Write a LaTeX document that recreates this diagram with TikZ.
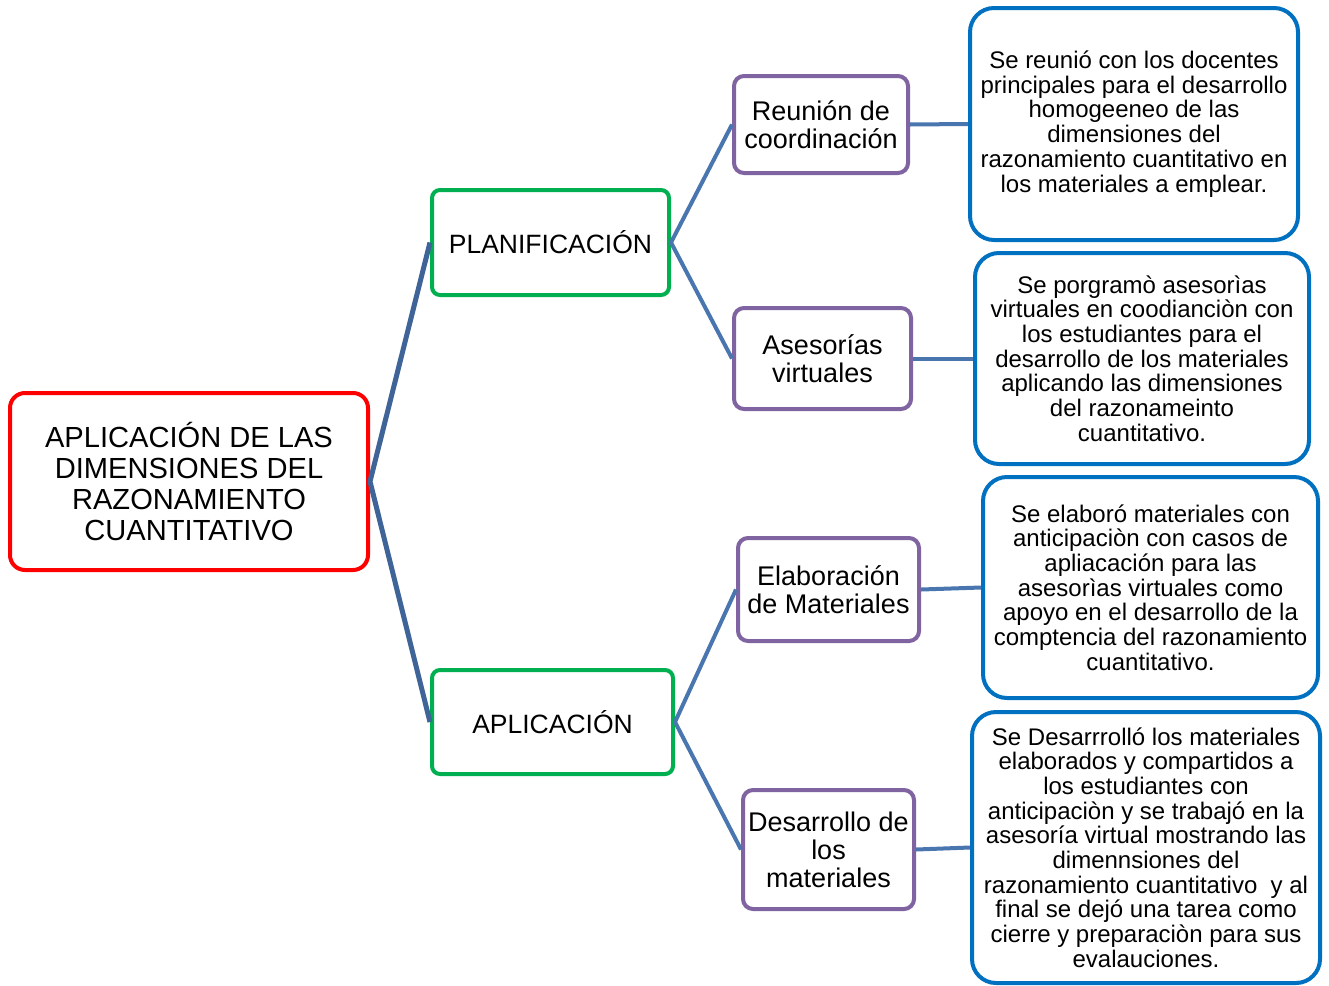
\documentclass[tikz,border=0pt]{standalone}
\usepackage{fontspec}
\setmainfont{Liberation Sans}
\definecolor{cred}{HTML}{FF0000}
\definecolor{cgreen}{HTML}{00B050}
\definecolor{cpurple}{HTML}{8064A2}
\definecolor{cblue}{HTML}{0070C0}
\definecolor{lineA}{HTML}{3F6497}
\definecolor{lineB}{HTML}{4A76B0}
\begin{document}
\begin{tikzpicture}[x=1pt,y=-1pt,
  box/.style={line width=4pt, align=center, inner sep=0pt, fill=white, text=black},
  rootbox/.style={box, draw=cred, rounded corners=15pt, font=\fontsize{29.1}{31}\selectfont},
  greenbox/.style={box, draw=cgreen, rounded corners=8pt, font=\fontsize{26.5}{30}\selectfont},
  purplebox/.style={box, draw=cpurple, rounded corners=10pt, font=\fontsize{27}{28}\selectfont},
  bluebox/.style={box, draw=cblue, rounded corners=24pt, font=\fontsize{24}{24.7}\selectfont},
  linkA/.style={draw=lineA, line width=5pt},
  linkB/.style={draw=lineB, line width=4pt}]
\useasboundingbox (0,0) rectangle (1329,985);
\fill[white] (0,0) rectangle (1329,985);

\node[rootbox, minimum width=358pt, minimum height=177pt] (root) at (189,481.5)
  {APLICACIÓN DE LAS\\DIMENSIONES DEL\\RAZONAMIENTO\\CUANTITATIVO};

\node[greenbox, minimum width=237pt, minimum height=105pt] (plan) at (550.5,242.5) {PLANIFICACIÓN};
\node[greenbox, minimum width=241pt, minimum height=104pt] (apl) at (552.5,722) {APLICACIÓN};

\node[purplebox, minimum width=174pt, minimum height=97pt] (p1) at (821,124.5) {Reunión de\\coordinación};
\node[purplebox, minimum width=177pt, minimum height=101pt] (p2) at (822.5,358.5) {Asesorías\\virtuales};
\node[purplebox, minimum width=181pt, minimum height=103pt] (p3) at (828.5,589.5) {Elaboración\\de Materiales};
\node[purplebox, minimum width=171pt, minimum height=119pt] (p4) at (828.5,849.5) {Desarrollo de\\los\\materiales};

\node[bluebox, minimum width=328pt, minimum height=232pt] (b1) at (1134,124)
  {Se reunió con los docentes\\principales para el desarrollo\\homogeeneo de las\\dimensiones del\\razonamiento cuantitativo en\\los materiales a emplear.};
\node[bluebox, minimum width=334pt, minimum height=211pt] (b2) at (1142,358.5)
  {Se porgramò asesorìas\\virtuales en coodianciòn con\\los estudiantes para el\\desarrollo de los materiales\\aplicando las dimensiones\\del razonameinto\\cuantitativo.};
\node[bluebox, minimum width=335pt, minimum height=221pt] (b3) at (1150.5,587.5)
  {Se elaboró materiales con\\anticipaciòn con casos de\\apliacación para las\\asesorìas virtuales como\\apoyo en el desarrollo de la\\comptencia del razonamiento\\cuantitativo.};
\node[bluebox, minimum width=348pt, minimum height=271pt] (b4) at (1146,847.5)
  {Se Desarrrolló los materiales\\elaborados y compartidos a\\los estudiantes con\\anticipaciòn y se trabajó en la\\asesoría virtual mostrando las\\dimennsiones del\\razonamiento cuantitativo \ y al\\final se dejó una tarea como\\cierre y preparaciòn para sus\\evalauciones.};

\draw[linkA, line join=round] (plan.west) -- (root.east) -- (apl.west);
\draw[linkB, line join=round] (p1.west) -- (plan.east) -- (p2.west);
\draw[linkB, line join=round] (p3.west) -- (apl.east) -- (p4.west);
\draw[linkB] (p1.east) -- (b1.west);
\draw[linkB] (p2.east) -- (b2.west);
\draw[linkB] (p3.east) -- (b3.west);
\draw[linkB] (p4.east) -- (b4.west);
\end{tikzpicture}
\end{document}
